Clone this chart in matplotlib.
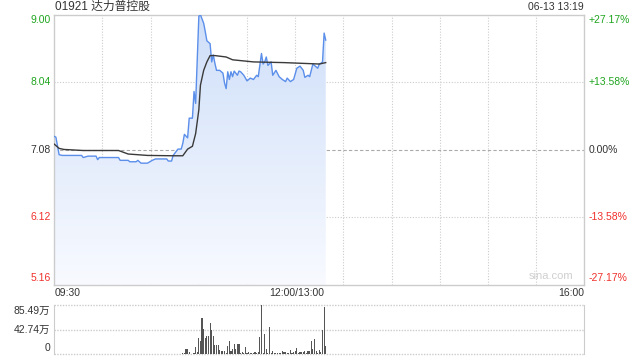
import numpy as np
import matplotlib
matplotlib.use('Agg')
import matplotlib.pyplot as plt
from matplotlib.colors import LinearSegmentedColormap

plt.rcParams['font.family'] = ['Liberation Sans', 'Noto Sans CJK SC', 'DejaVu Sans']

# ---------------- data ----------------
title = "01921 达力普控股"
timestamp = "06-13 13:19"
prev_close = 7.08
price_ticks = [9.00, 8.04, 7.08, 6.12, 5.16]
price_labels = ["9.00", "8.04", "7.08", "6.12", "5.16"]
pct_labels = ["+27.17%", "+13.58%", "0.00%", "-13.58%", "-27.17%"]
x_tick_labels = ["09:30", "12:00/13:00", "16:00"]
x_tick_pos = [0, 150, 330]
vol_ticks = [85.49, 42.74, 0]
vol_labels = ["85.49万", "42.74万", "0"]

# minutes since 09:30 (lunch break removed) and price
price_t = [0, 1, 3, 5, 17, 18, 21, 26, 27, 28, 40, 41, 46, 47, 51, 52, 54, 58, 61, 63,
           70, 71, 73, 74, 77, 79, 80, 81, 83, 84, 86, 87, 88, 89, 90, 91, 93, 94, 95, 97,
           98, 99, 100, 101, 103, 105, 106, 107, 108, 109, 110, 111, 112, 114, 115, 116, 118, 120, 122, 124,
           126, 127, 129, 130, 131, 132, 133, 135, 136, 138, 140, 142, 144, 145, 147, 149, 151, 153, 155, 156,
           158, 159, 161, 162, 164, 165, 166, 167, 168, 169]
price_v = [7.27, 7.26, 7.01, 7.00, 7.00, 6.97, 6.99, 6.99, 6.94, 6.97, 6.97, 6.93, 6.93, 6.91, 6.91, 6.93, 6.89, 6.89, 6.93, 6.95,
           6.95, 6.92, 6.92, 7.00, 7.09, 7.09, 7.17, 7.30, 7.25, 7.53, 7.53, 7.91, 7.74, 8.36, 8.98, 9.00, 8.88, 8.76, 8.63, 8.59,
           8.33, 8.43, 8.31, 8.21, 8.21, 8.17, 8.03, 7.95, 8.19, 8.08, 8.19, 8.12, 8.20, 8.14, 8.20, 8.19, 8.14, 8.06, 8.10, 8.08,
           8.14, 8.12, 8.45, 8.30, 8.33, 8.40, 8.28, 8.33, 8.14, 8.21, 8.12, 8.08, 8.05, 8.10, 8.05, 8.08, 8.24, 8.27, 8.21, 8.11,
           8.14, 8.12, 8.30, 8.28, 8.24, 8.30, 8.31, 8.33, 8.74, 8.64]

avg_t = [0, 3, 6, 18, 40, 46, 58, 74, 80, 83, 86, 88, 90, 91, 93, 95, 97, 100, 107, 111, 124, 143, 165, 169]
avg_v = [7.16, 7.10, 7.085, 7.07, 7.07, 7.02, 7.00, 6.995, 6.995, 7.09, 7.13, 7.31, 7.65, 8.00, 8.21, 8.33, 8.42, 8.42, 8.40, 8.36,
         8.33, 8.32, 8.30, 8.32]

# volume per minute (万)
volume = [1.2, 1.0, 1.0, 1.0, 1.0, 1.0, 1.0, 1.0, 1.0, 1.0,
          1.0, 1.0, 1.0, 1.0, 1.0, 1.0, 1.0, 1.0, 1.0, 1.0,
          1.0, 1.0, 1.0, 1.0, 1.0, 1.0, 1.0, 1.0, 1.0, 1.0,
          1.0, 1.0, 1.0, 1.0, 1.0, 1.0, 1.0, 1.0, 1.0, 1.0,
          1.0, 1.0, 1.0, 1.0, 1.0, 1.0, 1.0, 1.0, 1.0, 1.0,
          1.0, 1.0, 1.0, 1.0, 1.0, 1.0, 1.0, 1.0, 1.0, 1.0,
          1.0, 1.0, 1.0, 1.0, 1.0, 1.0, 1.0, 1.0, 1.0, 1.0,
          1.0, 1.0, 1.0, 1.0, 1.0, 1.0, 1.0, 1.0, 1.0, 1.0,
          1.5, 2.0, 9.2, 9.2, 3.5, 1.0, 1.0, 2.0, 12.0, 4.6,
          29.0, 23.0, 63.6, 44.0, 28.0, 32.0, 31.0, 54.0, 42.0, 31.0,
          15.6, 16.0, 16.0, 7.5, 5.8, 5.8, 5.8, 1.5, 15.0, 23.0,
          6.4, 8.7, 18.0, 8.7, 18.0, 17.0, 3.0, 4.0, 2.0, 12.7,
          1.5, 3.5, 3.0, 1.5, 3.0, 4.6, 3.0, 4.6, 30.0, 85.49,
          2.0, 34.7, 10.0, 2.0, 47.4, 1.5, 6.4, 2.0, 2.0, 2.0,
          2.0, 1.5, 5.8, 4.0, 4.0, 3.0, 1.5, 7.5, 1.5, 4.0,
          6.4, 11.6, 1.5, 3.5, 3.5, 4.6, 5.8, 1.5, 5.8, 5.8,
          23.7, 10.0, 26.6, 5.8, 2.0, 7.5, 3.5, 43.0, 82.6, 15.0]

# ---------------- styling ----------------
W, H = 640, 360
GREEN = '#1ea51e'
RED = '#f0302c'
DARK = '#333333'
BORDER = '#cccccc'
GRID = '#cccccc'
BLUE = '#5b8fea'

def fx(x):
    return x / W

def fy(y):
    return 1 - y / H

fig = plt.figure(figsize=(6.4, 3.6), dpi=100)
fig.patch.set_facecolor('white')

L, R = 54.3, 584.3
T, B = 14.8, 284.8
ax = fig.add_axes([fx(L), fy(B), fx(R) - fx(L), fy(T) - fy(B)])
ax.set_xlim(0, 330)
ax.set_ylim(price_ticks[-1], price_ticks[0])
ax.set_xticks([])
ax.set_yticks([])
for s in ax.spines.values():
    s.set_color(BORDER)
    s.set_linewidth(1)

# grid
for m in range(30, 330, 30):
    ax.axvline(m, color=GRID, lw=0.8, ls=(0, (1, 1.5)), zorder=1)
for p in price_ticks[1:-1]:
    if p == prev_close:
        ax.axhline(p, color='#aaaaaa', lw=0.8, ls=(0, (3, 2)), zorder=1)
    else:
        ax.axhline(p, color=GRID, lw=0.8, ls=(0, (1, 1.5)), zorder=1)

# gradient fill under price
poly = ax.fill_between(price_t, price_v, price_ticks[-1], facecolor='none', edgecolor='none')
cmap = LinearSegmentedColormap.from_list('g', ['#f8faff', '#cfdff9'])
grad = np.linspace(0, 1, 256).reshape(-1, 1)
im = ax.imshow(grad, extent=[0, 330, price_ticks[-1], price_ticks[0]], origin='lower',
               aspect='auto', cmap=cmap, zorder=2)
im.set_clip_path(poly.get_paths()[0], transform=ax.transData)
ax.set_xlim(0, 330)
ax.set_ylim(price_ticks[-1], price_ticks[0])

ax.plot(price_t, price_v, color=BLUE, lw=1.0, zorder=4)
ax.plot(avg_t, avg_v, color='#3a3a3a', lw=1.0, zorder=5)

ax.text(0.98, 0.015, "sina.com", transform=ax.transAxes, ha='right', va='bottom',
        fontsize=8, color='#cfcfcf', zorder=6)

# volume axes
VT, VB = 305.0, 354.3
axv = fig.add_axes([fx(L), fy(VB), fx(R) - fx(L), fy(VT) - fy(VB)])
axv.set_xlim(0, 330)
axv.set_ylim(0, vol_ticks[0])
axv.set_xticks([])
axv.set_yticks([])
for k in ['top', 'bottom']:
    axv.spines[k].set_visible(False)
for k in ['left', 'right']:
    axv.spines[k].set_color(BORDER)
for v in vol_ticks:
    axv.axhline(v, color=GRID, lw=1.0, ls=(0, (1, 1)), zorder=1, clip_on=False)
axv.bar(np.arange(len(volume)), volume, width=0.7, color='#555555', zorder=3)

# ---------------- texts ----------------
fig.text(fx(55), fy(7), title, fontsize=8.5, color=DARK, ha='left', va='center')
fig.text(fx(584), fy(7.5), timestamp, fontsize=7.5, color=DARK, ha='right', va='center')

label_y = [20, 82, 149.7, 217, 278.3]
left_colors = [GREEN, GREEN, DARK, RED, RED]
for lab, pct, yy, c in zip(price_labels, pct_labels, label_y, left_colors):
    fig.text(fx(51), fy(yy), lab, fontsize=7.5, color=c, ha='right', va='center')
    fig.text(fx(589), fy(yy), pct, fontsize=7.5, color=c, ha='left', va='center')

fig.text(fx(55), fy(293.3), x_tick_labels[0], fontsize=7.5, color=DARK, ha='left', va='center')
fig.text(fx(297), fy(293.3), x_tick_labels[1], fontsize=7.5, color=DARK, ha='center', va='center')
fig.text(fx(584.5), fy(293.3), x_tick_labels[2], fontsize=7.5, color=DARK, ha='right', va='center')

vol_label_y = [310.7, 329.7, 347.7]
for lab, yy in zip(vol_labels, vol_label_y):
    fig.text(fx(50), fy(yy), lab, fontsize=7.5, color=DARK, ha='right', va='center')

fig.savefig('out.png', dpi=100, facecolor='white')
